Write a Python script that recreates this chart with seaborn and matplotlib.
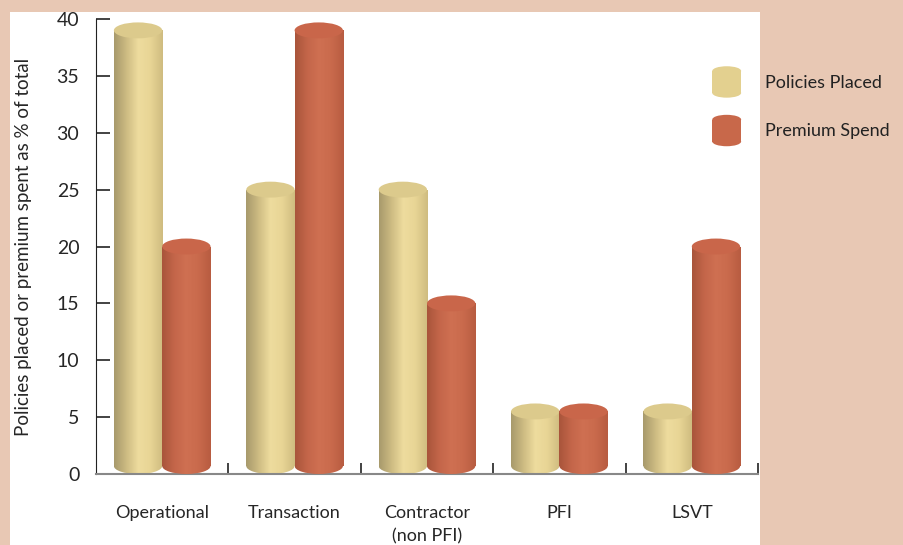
import numpy as np
import pandas as pd
import seaborn as sns
import matplotlib.pyplot as plt
from matplotlib.patches import Ellipse, Rectangle, Patch
from matplotlib.colors import LinearSegmentedColormap
from matplotlib.legend_handler import HandlerPatch

# data
categories = ["Operational", "Transaction", "Contractor\n(non PFI)", "PFI", "LSVT"]
policies_placed = [39, 25, 25, 5.5, 5.5]
premium_spend = [20, 39, 15, 5.5, 20]
series = ["Policies Placed", "Premium Spend"]

df = pd.DataFrame({
    "category": categories * 2,
    "value": policies_placed + premium_spend,
    "series": [series[0]] * len(categories) + [series[1]] * len(categories),
})

peach = "#E8C8B4"
yellow = "#E3D08F"
red = "#C8684A"

sns.set_style("white")
plt.rcParams["font.family"] = ["Lato", "DejaVu Sans"]
plt.rcParams["text.color"] = "#222222"

fig = plt.figure(figsize=(9.04, 5.45), dpi=100, facecolor=peach)
# white panel behind the chart
fig.patches.append(Rectangle((10 / 904, 0), 750 / 904, 533 / 545, transform=fig.transFigure,
                             facecolor="white", edgecolor="none", zorder=-5))
ax = fig.add_axes([96 / 904, 1 - 474 / 545, 662 / 904, 455 / 545])
ax.set_facecolor("none")
ax.set_zorder(2)

sns.barplot(data=df, x="category", y="value", hue="series", palette=[yellow, red],
            width=0.73, saturation=1, legend=False, ax=ax)

# gradients for the cylinder sides
grads = {
    series[0]: LinearSegmentedColormap.from_list("y", ["#A89A6C", "#CDBB82", "#EEDC9E", "#E8D595", "#CFBC80"]),
    series[1]: LinearSegmentedColormap.from_list("r", ["#A9553B", "#C4664A", "#CF7052", "#C96A4C", "#B85C41"]),
}
tops = {series[0]: "#DCCA8C", series[1]: "#C9664A"}
cap_h = 1.4
grad_img = np.linspace(0, 1, 64).reshape(1, -1)

n = len(categories)
for i, bar in enumerate(list(ax.patches)):
    s = series[i // n]
    x0 = bar.get_x()
    w = bar.get_width()
    h = bar.get_height()
    bar.set_visible(False)
    z = 2 + i // n
    base = cap_h / 2
    side = Rectangle((x0, base), w, h - base, transform=ax.transData)
    bottom = Ellipse((x0 + w / 2, base), w, cap_h, transform=ax.transData)
    for clip in (side, bottom):
        im = ax.imshow(grad_img, cmap=grads[s], aspect="auto",
                       extent=(x0, x0 + w, 0, h), zorder=z, interpolation="bilinear")
        im.set_clip_path(clip)
    ax.add_patch(Ellipse((x0 + w / 2, h), w, cap_h, facecolor=tops[s], edgecolor="none", zorder=z))

ax.set_xlim(-0.5, len(categories) - 0.5)
ax.set_ylim(0, 40)
ax.set_yticks(range(0, 41, 5))
ax.set_xlabel("")
ax.set_ylabel("Policies placed or premium spent as % of total", fontsize=13.5, labelpad=18)

sns.despine(ax=ax)
ax.spines["left"].set_color("#222222")
ax.spines["bottom"].set_color("#888888")
ax.spines["bottom"].set_linewidth(1.5)
ax.tick_params(axis="y", direction="in", length=10, width=1.2, color="#222222",
               labelsize=14, pad=12, left=True)
ax.tick_params(axis="x", which="major", length=0, labelsize=13, pad=22)
for t in ax.get_xticklabels():
    t.set_linespacing(1.6)
ax.set_xticks(np.arange(0.5, len(categories)), minor=True)
ax.tick_params(axis="x", which="minor", direction="in", length=8, width=1.2,
               color="#222222", bottom=True)


class CylinderHandler(HandlerPatch):
    def create_artists(self, legend, orig_handle, xdescent, ydescent, width, height, fontsize, trans):
        c = orig_handle.get_facecolor()
        eh = height * 0.3
        body = Rectangle((-xdescent, -ydescent + eh / 2), width, height - eh, facecolor=c,
                         edgecolor="none", transform=trans)
        bot = Ellipse((-xdescent + width / 2, -ydescent + eh / 2), width, eh, facecolor=c,
                      edgecolor="none", transform=trans)
        top = Ellipse((-xdescent + width / 2, -ydescent + height - eh / 2), width, eh,
                      facecolor=c, edgecolor="none", transform=trans)
        return [body, bot, top]


handles = [Patch(facecolor=yellow, edgecolor="none"), Patch(facecolor=red, edgecolor="none")]
fig.legend(handles, series, loc="upper left", bbox_to_anchor=(696 / 904, 1 - 50 / 545),
           frameon=False, fontsize=13, handlelength=1.6, handleheight=2.3,
           labelspacing=0.95, handletextpad=1.3,
           handler_map={Patch: CylinderHandler()})

fig.savefig("out.png", dpi=100, facecolor=peach)
